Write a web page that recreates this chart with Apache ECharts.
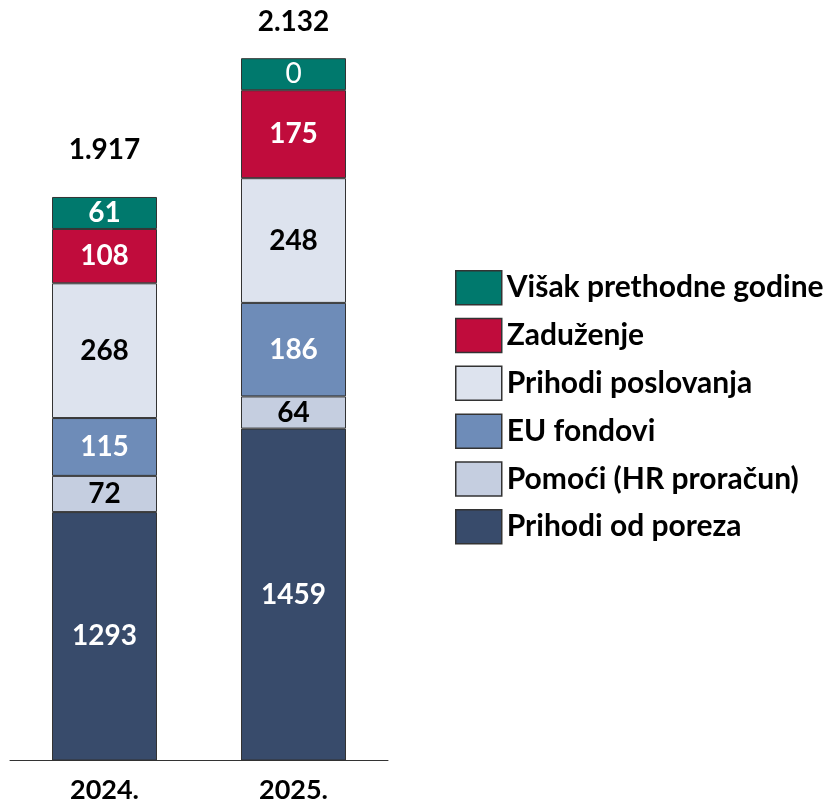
<!DOCTYPE html>
<html>
<head>
<meta charset="utf-8">
<script src="https://cdn.jsdelivr.net/npm/echarts@6/dist/echarts.min.js"></script>
<style>html,body{margin:0;padding:0;background:#fff}#c{width:831px;height:800px}</style>
</head>
<body>
<div id="c"></div>
<script>
const categories = ['2024.', '2025.'];
const seriesNames = ['Prihodi od poreza', 'Pomoći (HR proračun)', 'EU fondovi', 'Prihodi poslovanja', 'Zaduženje', 'Višak prethodne godine'];
const prihodiOdPoreza = [1293, 1459];
const pomoci = [72, 64];
const euFondovi = [115, 186];
const prihodiPoslovanja = [268, 248];
const zaduzenje = [108, 175];
const visak = [61, 0];
const totals = [1917, 2132];

const colors = ['#384B6B', '#C5CEE0', '#6E8CB8', '#DDE3EE', '#C00C3C', '#00796D'];
const labelColors = ['#fff', '#000', '#fff', '#000', '#fff', '#fff'];
const values = [prihodiOdPoreza, pomoci, euFondovi, prihodiPoslovanja, zaduzenje, visak];
const FONT = 'Lato';

function fmtThousands(v) {
  return String(v).replace(/\B(?=(\d{3})+(?!\d))/g, '.');
}

const chart = echarts.init(document.getElementById('c'));
const barSeries = values.map((arr, i) => ({
  name: seriesNames[i],
  type: 'bar',
  stack: 'total',
  barWidth: 105,
  barMinHeight: i === 5 ? 32 : 0,
  itemStyle: { color: colors[i], borderColor: '#333', borderWidth: 1 },
  label: {
    show: true, position: 'inside', color: labelColors[i],
    fontFamily: FONT, fontWeight: 'bold', fontSize: 28
  },
  data: arr.map(v => v === 0 ? { value: v, label: { fontWeight: 'normal' } } : v)
}));

const totalOffsets = [-48, -68];
const totalSeries = {
  type: 'scatter',
  symbolSize: 0,
  silent: true,
  itemStyle: { opacity: 1 },
  label: {
    show: true, position: 'inside', color: '#000',
    fontFamily: FONT, fontWeight: 'bold', fontSize: 28,
    formatter: p => fmtThousands(p.value[1])
  },
  data: totals.map((t, i) => ({ value: [categories[i], t], label: { offset: [0, totalOffsets[i]] } }))
};

chart.setOption({
  backgroundColor: '#fff',
  animation: false,
  grid: { left: 10, width: 378, bottom: 40, top: 56, outerBoundsMode: 'none', containLabel: false },
  xAxis: {
    type: 'category', data: categories,
    axisLine: { lineStyle: { color: '#333', width: 1 } },
    axisTick: { show: false },
    axisLabel: { color: '#000', fontFamily: FONT, fontWeight: 'bold', fontSize: 27, margin: 17 }
  },
  yAxis: {
    type: 'value', min: 800, max: 2200, show: false, splitLine: { show: false }
  },
  legend: {
    orient: 'vertical', left: 450, top: 265,
    icon: 'rect',
    itemWidth: 46, itemHeight: 34, itemGap: 12.3,
    data: seriesNames.slice().reverse(),
    itemStyle: { borderColor: '#333', borderWidth: 1.5 },
    textStyle: { color: '#000', fontFamily: FONT, fontWeight: 'bold', fontSize: 30, lineHeight: 34 },
    selectedMode: false
  },
  series: barSeries.concat([totalSeries])
});
</script>
</body>
</html>
